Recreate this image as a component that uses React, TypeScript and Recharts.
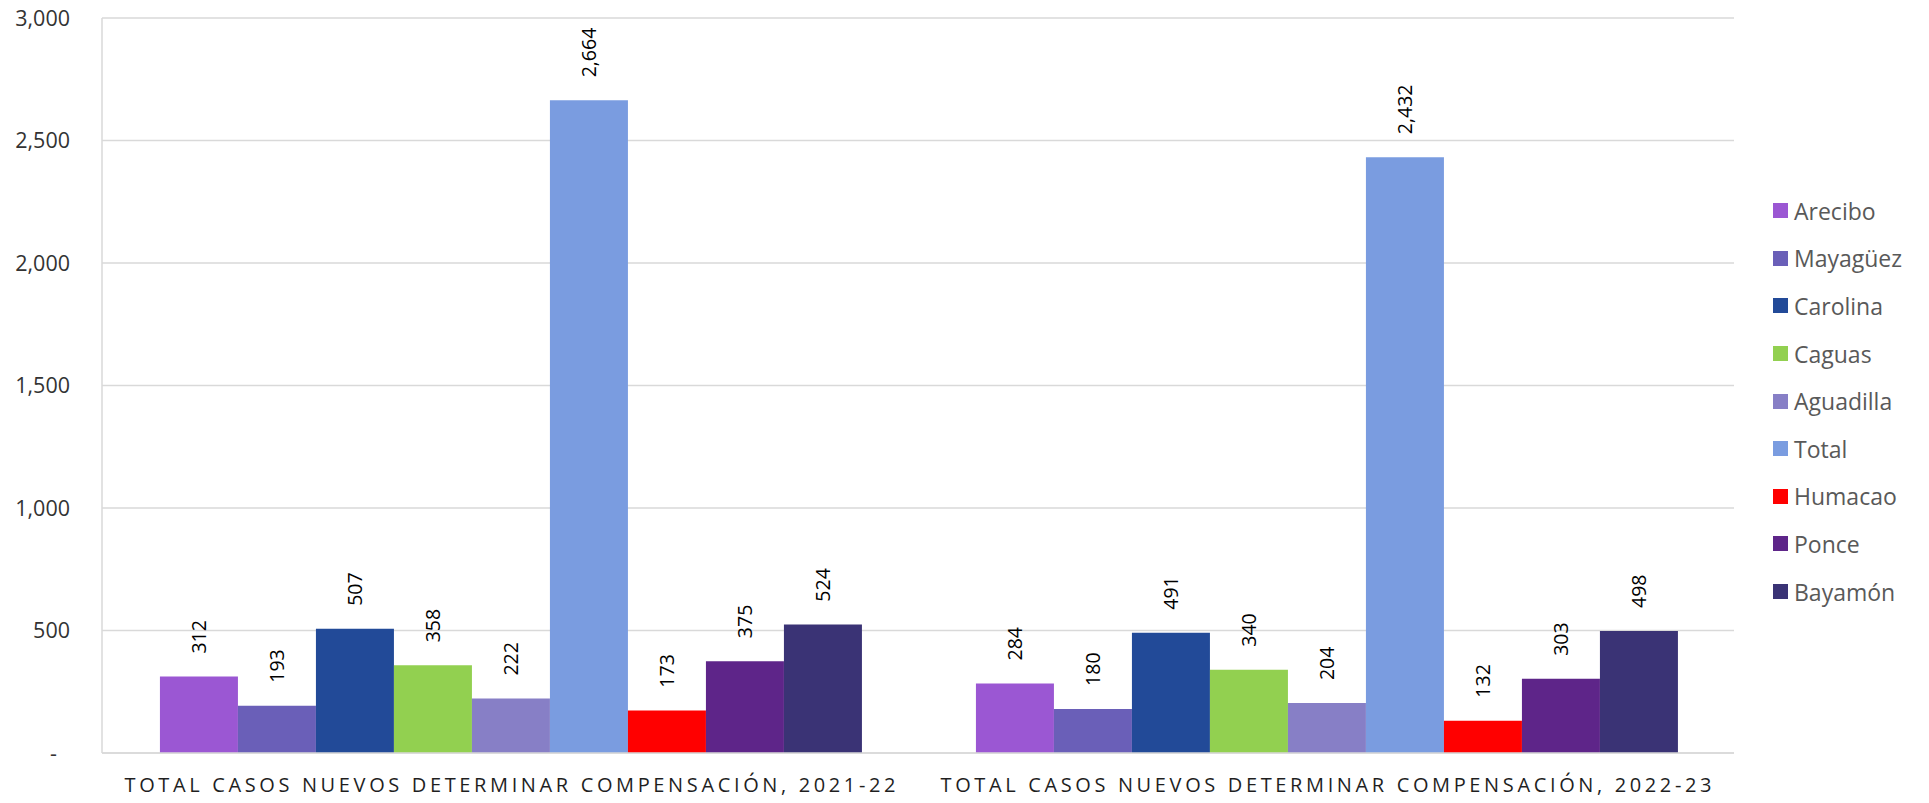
import React from "react";
import { BarChart, Bar, XAxis, YAxis, CartesianGrid, Legend, LabelList } from "recharts";

const categories = [
  "TOTAL CASOS NUEVOS DETERMINAR COMPENSACIÓN, 2021-22",
  "TOTAL CASOS NUEVOS DETERMINAR COMPENSACIÓN, 2022-23",
];
const seriesNames = ["Arecibo", "Mayagüez", "Carolina", "Caguas", "Aguadilla", "Total", "Humacao", "Ponce", "Bayamón"];
const seriesColors = ["#9B57D3", "#6A5FB8", "#224A98", "#92D050", "#877FC6", "#7A9CE0", "#FF0000", "#5E2589", "#3A3375"];
const values2021 = [312, 193, 507, 358, 222, 2664, 173, 375, 524];
const values2022 = [284, 180, 491, 340, 204, 2432, 132, 303, 498];
const yTicks = [0, 500, 1000, 1500, 2000, 2500, 3000];

const valueRows = [values2021, values2022];
const data = categories.map((name, ci) => {
  const row: Record<string, any> = { name };
  seriesNames.forEach((s, si) => {
    row[s] = valueRows[ci][si];
  });
  return row;
});

const fmt = (v: number) => (v === 0 ? "-" : v.toLocaleString("en-US"));
const FONT = "'Segoe UI', 'Open Sans', 'Noto Sans', sans-serif";

const YTick = (props: any) => {
  const { x, y, payload } = props;
  const isZero = payload.value === 0;
  return (
    <text x={isZero ? x - 13 : x} y={y} dy="0.35em" textAnchor="end" fontSize={21.5} fill="#333" fontFamily={FONT}>
      {fmt(payload.value)}
    </text>
  );
};

const XTick = (props: any) => {
  const { x, y, payload } = props;
  return (
    <text
      x={x}
      y={y + 39}
      textAnchor="middle"
      fontSize={20}
      fill="#1f1f1f"
      fontFamily={FONT}
      textLength={771}
      lengthAdjust="spacing"
    >
      {payload.value}
    </text>
  );
};

const BarLabel = (props: any) => {
  const { x, y, width, value } = props;
  const cx = x + width / 2;
  const ty = y - 23;
  return (
    <text
      x={cx}
      y={ty}
      transform={`rotate(-90 ${cx} ${ty})`}
      textAnchor="start"
      dominantBaseline="central"
      fontSize={19.5}
      fill="#000"
      fontFamily={FONT}
    >
      {fmt(value)}
    </text>
  );
};

const LegendContent = () => (
  <div style={{ fontFamily: FONT, width: 155 }}>
    {seriesNames.map((s, i) => (
      <div key={s} style={{ height: 47.6, display: "flex", alignItems: "center" }}>
        <span style={{ width: 15, height: 15, background: seriesColors[i], display: "inline-block", marginRight: 6, flex: "none" }} />
        <span style={{ fontSize: 23, color: "#595959", whiteSpace: "nowrap" }}>{s}</span>
      </div>
    ))}
  </div>
);

export default function App() {
  return (
    <div style={{ position: "absolute", left: 0, top: 0, background: "#fff" }}>
      <BarChart
        width={1929}
        height={803}
        data={data}
        margin={{ top: 18, right: 195, bottom: 0, left: 0 }}
        barGap={0}
        barCategoryGap="7.1%"
      >
        <CartesianGrid vertical={false} stroke="#d9d9d9" strokeWidth={1.5} />
        <XAxis
          dataKey="name"
          height={50}
          tickLine={false}
          tickSize={0}
          tickMargin={0}
          axisLine={{ stroke: "#d9d9d9", strokeWidth: 1.5 }}
          tick={<XTick />}
          interval={0}
        />
        <YAxis
          width={102}
          domain={[0, 3000]}
          ticks={yTicks}
          tickLine={false}
          tickSize={0}
          tickMargin={32}
          axisLine={{ stroke: "#d9d9d9", strokeWidth: 1.5 }}
          tick={<YTick />}
          interval={0}
        />
        <Legend
          layout="vertical"
          verticalAlign="top"
          align="right"
          content={<LegendContent />}
          wrapperStyle={{ position: "absolute", left: 1773, top: 187, width: 0, height: 0, overflow: "visible" }}
        />
        {seriesNames.map((s, i) => (
          <Bar key={s} dataKey={s} fill={seriesColors[i]} isAnimationActive={false}>
            <LabelList dataKey={s} content={<BarLabel />} />
          </Bar>
        ))}
      </BarChart>
    </div>
  );
}
